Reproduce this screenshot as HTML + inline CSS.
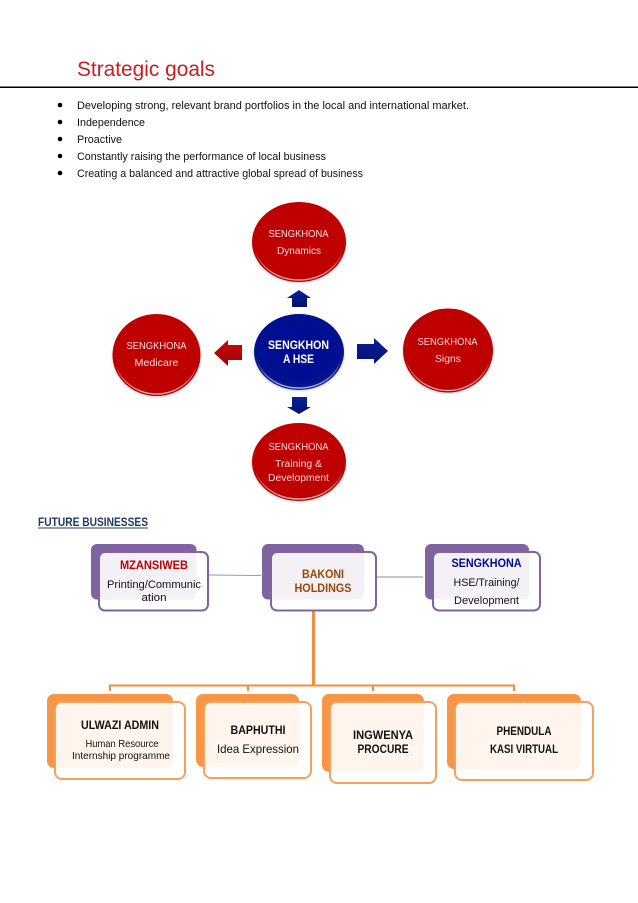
<!DOCTYPE html>
<html><head><meta charset="utf-8"><style>
html,body{margin:0;padding:0;background:#fff}
svg{display:block;filter:blur(.3px)}
text{font-family:"Liberation Sans",sans-serif}
.b{font-size:11px;fill:#111}
.c{font-size:10.5px;fill:#f6dcdc;text-anchor:middle}
.o{font-size:11px;fill:#111;text-anchor:middle}
.h{font-size:12px;font-weight:bold;text-anchor:middle}
.rim{fill:none;stroke:url(#rg);stroke-width:1.3}
.rimb{fill:none;stroke:url(#rgb);stroke-width:1.3}
</style></head><body>
<svg width="638" height="903" viewBox="0 0 638 903" xmlns="http://www.w3.org/2000/svg">
<defs>
<radialGradient id="r" cx=".5" cy=".45" r=".55"><stop offset="0" stop-color="#c00000"/><stop offset=".88" stop-color="#bf0000"/><stop offset="1" stop-color="#a80808"/></radialGradient>
<radialGradient id="bl" cx=".5" cy=".45" r=".55"><stop offset="0" stop-color="#000c96"/><stop offset=".85" stop-color="#00108f"/><stop offset="1" stop-color="#14248c"/></radialGradient>
<linearGradient id="ab" x1="0" y1="0" x2="0" y2="1"><stop offset="0" stop-color="#0a1f9c"/><stop offset="1" stop-color="#00106e"/></linearGradient>
<linearGradient id="ar" x1="0" y1="0" x2="0" y2="1"><stop offset="0" stop-color="#c80a0a"/><stop offset="1" stop-color="#a00000"/></linearGradient>
<linearGradient id="rg" x1="0" y1="0" x2="0" y2="1"><stop offset=".62" stop-color="#f7d0d0" stop-opacity="0"/><stop offset="1" stop-color="#f7d0d0" stop-opacity=".9"/></linearGradient>
<linearGradient id="rgb" x1="0" y1="0" x2="0" y2="1"><stop offset=".62" stop-color="#c8d0f8" stop-opacity="0"/><stop offset="1" stop-color="#c8d0f8" stop-opacity=".9"/></linearGradient>
<filter id="s" x="-15%" y="-15%" width="130%" height="130%"><feGaussianBlur stdDeviation="1.2"/></filter>
</defs>
<text x="77" y="76" font-size="21" fill="#cc1c22" textLength="138" lengthAdjust="spacingAndGlyphs">Strategic goals</text>
<rect x="0" y="86.5" width="638" height="1.5" fill="#000"/>
<g fill="#000"><circle cx="60" cy="105" r="2.3"/><circle cx="60" cy="122" r="2.3"/><circle cx="60" cy="139" r="2.3"/><circle cx="60" cy="156" r="2.3"/><circle cx="60" cy="173" r="2.3"/></g>
<text class="b" x="77" y="109" textLength="392" lengthAdjust="spacingAndGlyphs">Developing strong, relevant brand portfolios in the local and international market.</text>
<text class="b" x="77" y="126" textLength="68" lengthAdjust="spacingAndGlyphs">Independence</text>
<text class="b" x="77" y="143" textLength="45" lengthAdjust="spacingAndGlyphs">Proactive</text>
<text class="b" x="77" y="160" textLength="249" lengthAdjust="spacingAndGlyphs">Constantly raising the performance of local business</text>
<text class="b" x="77" y="177" textLength="286" lengthAdjust="spacingAndGlyphs">Creating a balanced and attractive global spread of business</text>

<!-- circles -->
<ellipse cx="299" cy="243" rx="47" ry="40" fill="#b9a0a0" opacity=".5" filter="url(#s)"/>
<ellipse cx="299" cy="242" rx="47" ry="40" fill="url(#r)"/>
<ellipse class="rim" cx="299" cy="242" rx="45" ry="38"/>
<ellipse cx="156.5" cy="356" rx="44" ry="41" fill="#b9a0a0" opacity=".5" filter="url(#s)"/>
<ellipse cx="156.5" cy="355" rx="44" ry="41" fill="url(#r)"/>
<ellipse class="rim" cx="156.5" cy="355" rx="42" ry="39"/>
<ellipse cx="448" cy="351.500" rx="45" ry="42" fill="#b9a0a0" opacity=".5" filter="url(#s)"/>
<ellipse cx="448" cy="350.500" rx="45" ry="42" fill="url(#r)"/>
<ellipse class="rim" cx="448" cy="350.500" rx="43" ry="40"/>
<ellipse cx="299" cy="463" rx="47" ry="39" fill="#b9a0a0" opacity=".5" filter="url(#s)"/>
<ellipse cx="299" cy="462" rx="47" ry="39" fill="url(#r)"/>
<ellipse class="rim" cx="299" cy="462" rx="45" ry="37"/>
<ellipse cx="299" cy="353" rx="45" ry="38" fill="#a0a4c0" opacity=".5" filter="url(#s)"/>
<ellipse cx="299" cy="352" rx="45" ry="38" fill="url(#bl)"/>
<ellipse class="rimb" cx="299" cy="352" rx="43" ry="36"/>

<!-- arrows -->
<path d="M299 290L311 298H307V307H292V298H287Z" fill="url(#ab)"/>
<path d="M292 397H307V407H311L299 414L287 407H292Z" fill="url(#ab)"/>
<path d="M357 344H374V338L388 351L374 364V359H357Z" fill="url(#ab)"/>
<path d="M242 345H228V340L214 353L228 366V360H242Z" fill="url(#ar)"/>

<!-- circle labels -->
<text class="c" x="298.500" y="237" textLength="60" lengthAdjust="spacingAndGlyphs">SENGKHONA</text>
<text class="c" x="299" y="254" textLength="44" lengthAdjust="spacingAndGlyphs">Dynamics</text>
<text class="c" x="156.500" y="349" textLength="60" lengthAdjust="spacingAndGlyphs">SENGKHONA</text>
<text class="c" x="156.500" y="366" textLength="44" lengthAdjust="spacingAndGlyphs">Medicare</text>
<text class="c" x="447.500" y="345" textLength="60" lengthAdjust="spacingAndGlyphs">SENGKHONA</text>
<text class="c" x="448" y="362" textLength="26" lengthAdjust="spacingAndGlyphs">Signs</text>
<text class="c" x="298.500" y="450" textLength="60" lengthAdjust="spacingAndGlyphs">SENGKHONA</text>
<text class="c" x="298.500" y="467" textLength="47" lengthAdjust="spacingAndGlyphs">Training &amp;</text>
<text class="c" x="298.500" y="481" textLength="61" lengthAdjust="spacingAndGlyphs">Development</text>
<text x="298.500" y="349" font-size="12" font-weight="bold" fill="#fff" text-anchor="middle" textLength="61" lengthAdjust="spacingAndGlyphs">SENGKHON</text>
<text x="298.500" y="363" font-size="12" font-weight="bold" fill="#fff" text-anchor="middle" textLength="31" lengthAdjust="spacingAndGlyphs">A HSE</text>

<text x="38" y="526" font-size="11.500" font-weight="bold" fill="#1f3864" textLength="110" lengthAdjust="spacingAndGlyphs">FUTURE BUSINESSES</text>
<rect x="38" y="527.500" width="110" height="1" fill="#1f3864"/>

<!-- connectors -->
<line x1="209" y1="575" x2="261" y2="575.500" stroke="#7ba0c8" stroke-width="1"/>
<line x1="376" y1="577" x2="423" y2="577" stroke="#6f97bd" stroke-width="1"/>
<g stroke="#f28e3f" fill="none">
<line x1="313.500" y1="611" x2="313.500" y2="686" stroke-width="3"/>
<path d="M110 691V685.500H514V691M248 685.500V691M373 685.500V691" stroke-width="2"/>
</g>

<!-- purple boxes -->
<g fill="#8064a2">
<rect x="91" y="544" width="105.500" height="55.500" rx="6"/>
<rect x="262" y="544" width="102" height="55.500" rx="6"/>
<rect x="425" y="544" width="104" height="55.500" rx="6"/>
</g>
<g fill="#fff" fill-opacity=".9" stroke="#8064a2" stroke-width="2">
<rect x="99" y="552" width="109" height="58.500" rx="6"/>
<rect x="271" y="552" width="105" height="58.500" rx="6"/>
<rect x="433" y="552" width="107" height="58.500" rx="6"/>
</g>
<!-- orange boxes -->
<g fill="#f79646">
<rect x="47" y="694" width="126" height="74" rx="7"/>
<rect x="196" y="694" width="103" height="73" rx="7"/>
<rect x="322" y="694" width="102" height="78" rx="7"/>
<rect x="447" y="694" width="134" height="75" rx="7"/>
</g>
<g fill="#fff" fill-opacity=".9" stroke="#f4a060" stroke-width="2">
<rect x="55" y="702" width="130" height="77" rx="7"/>
<rect x="204" y="702" width="107" height="76" rx="7"/>
<rect x="330" y="702" width="106" height="81" rx="7"/>
<rect x="455" y="702" width="138" height="78" rx="7"/>
</g>

<!-- box labels -->
<text class="h" x="154" y="569" fill="#c00000" textLength="68" lengthAdjust="spacingAndGlyphs">MZANSIWEB</text>
<text class="o" x="154" y="588" textLength="94" lengthAdjust="spacingAndGlyphs">Printing/Communic</text>
<text class="o" x="154" y="601" textLength="25" lengthAdjust="spacingAndGlyphs">ation</text>
<text class="h" x="323" y="578" fill="#984806" textLength="42" lengthAdjust="spacingAndGlyphs">BAKONI</text>
<text class="h" x="323" y="592" fill="#984806" textLength="57" lengthAdjust="spacingAndGlyphs">HOLDINGS</text>
<text class="h" x="486.500" y="567" fill="#000c8c" textLength="70" lengthAdjust="spacingAndGlyphs">SENGKHONA</text>
<text class="o" x="486.500" y="586" textLength="66" lengthAdjust="spacingAndGlyphs">HSE/Training/</text>
<text class="o" x="486.500" y="604" textLength="65" lengthAdjust="spacingAndGlyphs">Development</text>

<text class="h" x="120" y="729" fill="#111" textLength="78" lengthAdjust="spacingAndGlyphs">ULWAZI ADMIN</text>
<text x="122" y="747" font-size="10.500" fill="#111" text-anchor="middle" textLength="73" lengthAdjust="spacingAndGlyphs">Human Resource</text>
<text x="121" y="759" font-size="10.500" fill="#111" text-anchor="middle" textLength="98" lengthAdjust="spacingAndGlyphs">Internship programme</text>
<text class="h" x="258" y="734" fill="#111" textLength="55" lengthAdjust="spacingAndGlyphs">BAPHUTHI</text>
<text x="258" y="753" font-size="12" fill="#111" text-anchor="middle" textLength="82" lengthAdjust="spacingAndGlyphs">Idea Expression</text>
<text class="h" x="383" y="739" fill="#111" textLength="60" lengthAdjust="spacingAndGlyphs">INGWENYA</text>
<text class="h" x="383" y="753" fill="#111" textLength="51" lengthAdjust="spacingAndGlyphs">PROCURE</text>
<text x="524" y="735" font-size="11.500" font-weight="bold" fill="#111" text-anchor="middle" textLength="55" lengthAdjust="spacingAndGlyphs">PHENDULA</text>
<text x="524" y="753" font-size="11.500" font-weight="bold" fill="#111" text-anchor="middle" textLength="68" lengthAdjust="spacingAndGlyphs">KASI VIRTUAL</text>
</svg>
</body></html>
